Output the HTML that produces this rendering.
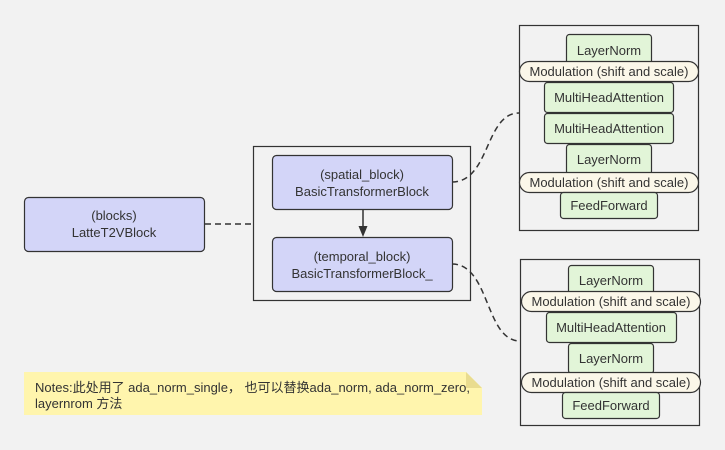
<!DOCTYPE html>
<html><head><meta charset="utf-8"><style>
html,body{margin:0;padding:0;background:#f2f2f2;}
svg{display:block;font-family:"Liberation Sans","Noto Sans CJK SC",sans-serif;}
text{font-size:13px;fill:#333;}
</style></head><body>
<svg width="725" height="450" viewBox="0 0 725 450">
<rect width="725" height="450" fill="#f2f2f2"/>
<!-- containers -->
<rect x="253.5" y="146.5" width="217" height="154" fill="none" stroke="#333" stroke-width="1.2"/>
<rect x="519.5" y="25.5" width="179" height="205" fill="none" stroke="#333" stroke-width="1.2"/>
<rect x="520.5" y="259.5" width="179" height="166" fill="none" stroke="#333" stroke-width="1.2"/>
<!-- connectors -->
<path d="M205 224 H253" stroke="#333" stroke-width="1.5" fill="none" stroke-dasharray="6,4"/>
<path d="M452 182 C490 182,485 113,519 113" stroke="#333" stroke-width="1.5" fill="none" stroke-dasharray="6,4"/>
<path d="M452 264 C490 264,485 341,520 341" stroke="#333" stroke-width="1.5" fill="none" stroke-dasharray="6,4"/>
<path d="M363 209 V228" stroke="#333" stroke-width="1.5"/>
<path d="M358.5 226 L367.5 226 L363 237 Z" fill="#333"/>
<!-- blue nodes -->
<g fill="#d3d5f8" stroke="#333" stroke-width="1.2">
<rect x="24.5" y="197.5" width="180" height="54" rx="4"/>
<rect x="272.5" y="155.5" width="180" height="54" rx="4"/>
<rect x="272.5" y="237.5" width="180" height="54" rx="4"/>
</g>
<g text-anchor="middle">
<text x="114" y="220">(blocks)</text><text x="114" y="237">LatteT2VBlock</text>
<text x="362" y="179">(spatial_block)</text><text x="362" y="196">BasicTransformerBlock</text>
<text x="362" y="261">(temporal_block)</text><text x="362" y="278">BasicTransformerBlock_</text>
</g>
<!-- top right -->
<g stroke="#333" stroke-width="1.2">
<rect x="566.5" y="34.5" width="85" height="30" rx="3" fill="#e2f5d8"/>
<rect x="519.5" y="61.5" width="179" height="20" rx="10" fill="#fbf7e9"/>
<rect x="544.5" y="82.5" width="129" height="30" rx="3" fill="#e2f5d8"/>
<rect x="544.5" y="113.5" width="129" height="30" rx="3" fill="#e2f5d8"/>
<rect x="566.5" y="144.5" width="85" height="30" rx="3" fill="#e2f5d8"/>
<rect x="519.5" y="172.5" width="179" height="20" rx="10" fill="#fbf7e9"/>
<rect x="560.5" y="192.5" width="97" height="26" rx="3" fill="#e2f5d8"/>
</g>
<g text-anchor="middle">
<text x="609" y="55">LayerNorm</text>
<text x="609" y="76">Modulation (shift and scale)</text>
<text x="609" y="102">MultiHeadAttention</text>
<text x="609" y="133">MultiHeadAttention</text>
<text x="609" y="164">LayerNorm</text>
<text x="609" y="187">Modulation (shift and scale)</text>
<text x="609" y="210">FeedForward</text>
</g>
<!-- bottom right -->
<g stroke="#333" stroke-width="1.2">
<rect x="568.5" y="265.5" width="85" height="30" rx="3" fill="#e2f5d8"/>
<rect x="521.5" y="291.5" width="179" height="20" rx="10" fill="#fbf7e9"/>
<rect x="546.5" y="312.5" width="130" height="30" rx="3" fill="#e2f5d8"/>
<rect x="568.5" y="343.5" width="85" height="30" rx="3" fill="#e2f5d8"/>
<rect x="521.5" y="372.5" width="179" height="20" rx="10" fill="#fbf7e9"/>
<rect x="562.5" y="392.5" width="97" height="26" rx="3" fill="#e2f5d8"/>
</g>
<g text-anchor="middle">
<text x="611" y="285">LayerNorm</text>
<text x="611" y="306">Modulation (shift and scale)</text>
<text x="611" y="332">MultiHeadAttention</text>
<text x="611" y="363">LayerNorm</text>
<text x="611" y="387">Modulation (shift and scale)</text>
<text x="611" y="410">FeedForward</text>
</g>
<!-- note -->
<path d="M24 372 H466 L482 388 V415 H24 Z" fill="#fff5ad"/>
<path d="M466 372 L466 388 L482 388 Z" fill="#e9dc8f"/>
<text x="35" y="392">Notes:此处用了 ada_norm_single， 也可以替换ada_norm, ada_norm_zero,</text>
<text x="35" y="408">layernrom 方法</text>
</svg>
</body></html>
